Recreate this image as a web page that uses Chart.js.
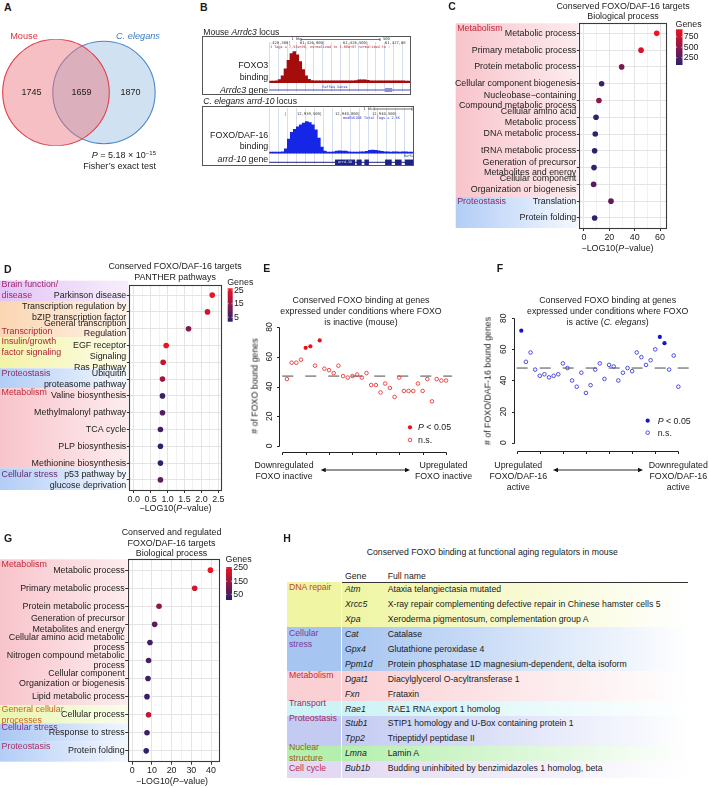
<!DOCTYPE html>
<html>
<head>
<meta charset="utf-8">
<title>Conserved FOXO/DAF-16 targets</title>
<script src="https://cdn.jsdelivr.net/npm/chart.js@4.4.1/dist/chart.umd.min.js"></script>
<style>
  html, body { margin: 0; padding: 0; background: #fff; }
  #page { position: relative; width: 709px; height: 788px; overflow: hidden;
          font-family: "Liberation Sans", Arial, sans-serif; color: #1a1a1a; }
  #page canvas { position: absolute; }
  .t { position: absolute; white-space: nowrap; line-height: 1; }
  .cell { position: absolute; }
</style>
</head>
<body>
<div id="page"></div>
<script>
// ---- A: Venn counts (mouse only, shared, C. elegans only)
const vennLabels = ['Mouse', 'C. elegans'];
const vennCounts = [1745, 1659, 1870];

// ---- B: binned ChIP coverage, % of peak height
const foxo3Coverage = [5, 5, 6, 10, 22, 45, 72, 94, 100, 90, 68, 42, 22, 11, 7, 6, 6, 6, 6, 6, 6, 6, 6, 6,
  6, 6, 6, 6, 6, 7, 9, 9, 9, 8, 6, 6, 6, 6, 6, 6, 6, 6, 6, 6, 6, 6, 5, 5];
const daf16Coverage = [4, 4, 4, 4, 5, 14, 45, 66, 76, 84, 90, 96, 100, 97, 90, 74, 48, 20, 7, 4, 4, 5, 7, 8,
  7, 7, 5, 4, 4, 4, 5, 5, 6, 9, 10, 9, 8, 6, 5, 5, 4, 5, 5, 4, 5, 5, 4, 4];
const arrdc3Exons = [[39.3, 41.7]];
const arrd10Exons = [[21.9, 28.6], [29.1, 30.8], [31.7, 33.2], [38.6, 40.8], [41.9, 44.1], [45.2, 47.9]];

// ---- C: biological process
const bpTerms = ['Metabolic process', 'Primary metabolic process', 'Protein metabolic process',
  'Cellular component biogenesis', ['Nucleobase\u2212containing', 'Compound metabolic process'],
  ['Cellular amino acid', 'Metabolic process'], 'DNA metabolic process', 'tRNA metabolic process',
  ['Generation of precursor', 'Metabolites and energy'], ['Cellular component', 'Organization or biogenesis'],
  'Translation', 'Protein folding'];
const bpLogP = [57.4, 45, 29.7, 13.9, 11.8, 9.5, 8.9, 8.4, 7.9, 7.6, 21.3, 8.4];
const bpGenes = [925, 810, 430, 150, 470, 110, 120, 100, 110, 260, 290, 95];

// ---- D: PANTHER pathways
const pantherTerms = ['Parkinson disease', ['Transcription regulation by', 'bZIP transcription factor'],
  ['General transcription', 'Regulation'], 'EGF receptor', ['Signaling', 'Ras Pathway'],
  ['Ubiquitin', 'proteasome pathway'], 'Valine biosynthesis', 'Methylmalonyl pathway', 'TCA cycle',
  'PLP biosynthesis', 'Methionine biosynthesis', ['p53 pathway by', 'glucose deprivation']];
const pantherLogP = [2.32, 2.18, 1.62, 0.96, 0.87, 0.85, 0.85, 0.85, 0.79, 0.79, 0.79, 0.79];
const pantherGenes = [26, 22, 13, 25, 21, 17, 5, 7, 5, 3, 3, 9];

// ---- E / F: FOXO-bound genes per expression bin
const mouseBound = [45, 56, 56, 58, 66, 67, 54, 71, 52, 51, 49, 54, 47, 46, 47, 48, 46, 49, 41, 41,
  36, 42, 39, 33, 46, 37, 37, 37, 42, 37, 45, 30, 45, 44, 44];
const mouseSig = [0, 0, 0, 0, 1, 1, 0, 1, 0, 0, 0, 0, 0, 0, 0, 0, 0, 0, 0, 0,
  0, 0, 0, 0, 0, 0, 0, 0, 0, 0, 0, 0, 0, 0, 0];
const mouseExpected = 47;
const wormBound = [72, 52, 58, 47, 43, 44, 42, 43, 44, 51, 48, 40, 36, 45, 32, 37, 47, 51, 41, 50,
  49, 40, 45, 48, 46, 58, 55, 50, 53, 60, 68, 64, 47, 56, 36];
const wormSig = [1, 0, 0, 0, 0, 0, 0, 0, 0, 0, 0, 0, 0, 0, 0, 0, 0, 0, 0, 0,
  0, 0, 0, 0, 0, 0, 0, 0, 0, 0, 1, 1, 0, 0, 0];
const wormExpected = 48;
const binTicks = [0, 5, 10, 15, 20, 25, 30, 35];
const countTicks = [0, 20, 40, 60, 80];

// ---- G: conserved and regulated targets
const regTerms = ['Metabolic process', 'Primary metabolic process', 'Protein metabolic process',
  ['Generation of precursor', 'Metabolites and energy'], ['Cellular amino acid metabolic', 'process'],
  ['Nitrogen compound metabolic', 'process'], ['Cellular component', 'Organization or biogenesis'],
  'Lipid metabolic process', 'Cellular process', 'Response to stress', 'Protein folding'];
const regLogP = [39.7, 31.7, 13.6, 11.4, 9, 8.3, 8, 7.5, 8.3, 7.5, 7.1];
const regGenes = [258, 225, 125, 65, 40, 45, 40, 25, 200, 30, 20];

// ---- H: aging regulators
const agingGroups = ['DNA repair', ['Cellular', 'stress'], 'Metabolism', 'Transport', 'Proteostasis',
  ['Nuclear', 'structure'], 'Cell cycle'];
const agingGroupSize = [3, 3, 2, 1, 2, 1, 1];
const agingGenes = ['Atm', 'Xrcc5', 'Xpa', 'Cat', 'Gpx4', 'Ppm1d', 'Dgat1', 'Fxn', 'Rae1', 'Stub1', 'Tpp2', 'Lmna', 'Bub1b'];
const agingNames = ['Ataxia telangiectasia mutated',
  'X-ray repair complementing defective repair in Chinese hamster cells 5',
  'Xeroderma pigmentosum, complementation group A', 'Catalase', 'Glutathione peroxidase 4',
  'Protein phosphatase 1D magnesium-dependent, delta isoform', 'Diacylglycerol O-acyltransferase 1',
  'Frataxin', 'RAE1 RNA export 1 homolog', 'STIP1 homology and U-Box containing protein 1',
  'Tripeptidyl peptidase II', 'Lamin A', 'Budding uninhibited by benzimidazoles 1 homolog, beta'];

// ---------------------------------------------------------------
const FONT = '"Liberation Sans", Arial, sans-serif';
const GENE_LOW = [42, 32, 112];
const GENE_HIGH = [242, 18, 32];
const page = document.getElementById('page');
Chart.defaults.font.family = FONT;

function makeCanvas(x, y, w, h) {
  const c = document.createElement('canvas');
  c.width = w; c.height = h;
  c.style.left = x + 'px'; c.style.top = y + 'px';
  c.style.width = w + 'px'; c.style.height = h + 'px';
  page.appendChild(c);
  return c;
}

function txt(x, y, html, o = {}) {
  const d = document.createElement('div');
  d.className = 't';
  d.innerHTML = html;
  d.style.left = x + 'px';
  d.style.top = y + 'px';
  d.style.fontSize = (o.size || 9) + 'px';
  if (o.color) d.style.color = o.color;
  if (o.bold) d.style.fontWeight = 'bold';
  const ax = o.align === 'l' ? '0' : o.align === 'r' ? '-100%' : '-50%';
  d.style.transform = `translate(${ax}, -50%)` + (o.rot ? ` rotate(${o.rot}deg)` : '');
  page.appendChild(d);
  return d;
}

function geneColor(g, range) {
  const t = Math.max(0, Math.min(1, (g - range[0]) / (range[1] - range[0])));
  const c = GENE_LOW.map((v, k) => Math.round(v + (GENE_HIGH[k] - v) * t));
  return `rgb(${c[0]},${c[1]},${c[2]})`;
}

const quiet = { legend: { display: false }, tooltip: { enabled: false } };

// ---------------- A: Venn ----------------
const vennCenters = [0, 0.9];
const vennRadius = [1, 0.96];
const vennCountX = [-0.46, 0.48, 1.40];
new Chart(makeCanvas(0, 30, 200, 130), {
  type: 'scatter',
  data: {
    datasets: [0, 1].map(k => ({
      label: vennLabels[k],
      data: [{ x: vennCenters[k], y: 0 }],
      pointRadius: c => c.chart.scales.x.getPixelForValue(vennRadius[k]) - c.chart.scales.x.getPixelForValue(0),
      pointBackgroundColor: k === 0 ? 'rgba(236,112,122,0.45)' : 'rgba(150,190,226,0.45)',
      pointBorderColor: k === 0 ? '#e0404a' : '#4c88c8',
      pointBorderWidth: 1.1
    }))
  },
  options: {
    responsive: false, animation: false, devicePixelRatio: 1, events: [],
    layout: { padding: { left: 0, right: 37.4, top: 9.2, bottom: 14.2 } },
    plugins: quiet,
    scales: { x: { display: false, min: -1.05, max: 2.0 }, y: { display: false, min: -1, max: 1 } }
  },
  plugins: [{
    id: 'vennCounts',
    afterDatasetsDraw(chart) {
      const ctx = chart.ctx;
      ctx.save();
      ctx.fillStyle = '#222'; ctx.font = `9px ${FONT}`;
      ctx.textAlign = 'center'; ctx.textBaseline = 'middle';
      vennCounts.forEach((n, i) => ctx.fillText(String(n),
        chart.scales.x.getPixelForValue(vennCountX[i]), chart.scales.y.getPixelForValue(0)));
      ctx.restore();
    }
  }]
});

// ---------------- B: genome tracks ----------------
function track(o) {
  const [bx, by, bw, bh] = o.box;
  const [al, ar, at, ab] = o.area;
  new Chart(makeCanvas(bx, by, bw, bh), {
    type: 'bar',
    data: {
      labels: o.values.map((_, i) => i),
      datasets: [{ data: o.values, backgroundColor: o.color, borderWidth: 0,
        categoryPercentage: 1, barPercentage: 1 }]
    },
    options: {
      responsive: false, animation: false, devicePixelRatio: 1, events: [],
      layout: { padding: { left: al - bx, right: bx + bw - ar, top: at - by, bottom: by + bh - ab } },
      plugins: quiet,
      scales: { x: { display: false }, y: { display: false, min: o.yMin, max: o.yMax } }
    },
    plugins: [{
      id: 'trackDecor',
      beforeDatasetsDraw(chart) {
        const ctx = chart.ctx, x = chart.scales.x, a = chart.chartArea;
        ctx.save();
        ctx.strokeStyle = '#d6ddef'; ctx.lineWidth = 1;
        for (let i = 0; i <= o.values.length; i += 3) {
          const px = Math.round(x.getPixelForValue(i - 0.5)) + 0.5;
          ctx.beginPath(); ctx.moveTo(px, a.top - 4); ctx.lineTo(px, a.bottom); ctx.stroke();
        }
        ctx.restore();
      },
      afterDraw(chart) {
        const ctx = chart.ctx, x = chart.scales.x;
        ctx.save();
        // gene model
        const gy = o.geneY - by;
        ctx.strokeStyle = o.geneColor; ctx.lineWidth = 1;
        ctx.beginPath(); ctx.moveTo(x.getPixelForValue(-0.5), gy); ctx.lineTo(x.getPixelForValue(o.values.length - 0.5), gy); ctx.stroke();
        ctx.fillStyle = o.exonColor;
        o.exons.forEach(([s, e]) => {
          const x0 = x.getPixelForValue(s - 0.5), x1 = x.getPixelForValue(e - 0.5);
          ctx.fillRect(x0, gy - o.exonH / 2, x1 - x0, o.exonH);
        });
        // header text
        o.header.forEach(h => {
          ctx.fillStyle = h.color; ctx.font = `${h.size || 3.8}px "DejaVu Sans Mono", monospace`;
          ctx.textAlign = h.align || 'left'; ctx.textBaseline = 'middle';
          ctx.fillText(h.text, h.x - bx, h.y - by);
        });
        // ruler
        ctx.strokeStyle = '#333'; ctx.lineWidth = 0.7;
        const [r0, r1, ry] = o.ruler;
        ctx.beginPath();
        ctx.moveTo(r0 - bx, ry - by); ctx.lineTo(r1 - bx, ry - by);
        ctx.moveTo(r0 - bx, ry - by - 1.5); ctx.lineTo(r0 - bx, ry - by + 1.5);
        ctx.moveTo(r1 - bx, ry - by - 1.5); ctx.lineTo(r1 - bx, ry - by + 1.5);
        ctx.stroke();
        // frame
        ctx.strokeStyle = '#555'; ctx.lineWidth = 1;
        ctx.strokeRect(0.5, 0.5, bw - 1, bh - 1);
        ctx.restore();
      }
    }]
  });
}

track({
  box: [202, 36, 209, 59], area: [269.3, 410.7, 46, 92], yMin: -30, yMax: 118.4,
  values: foxo3Coverage, color: '#a50d0d',
  geneY: 90, geneColor: '#4a4fb0', exonColor: '#8c8fd6', exons: arrdc3Exons, exonH: 4,
  ruler: [301, 380, 39.5],
  header: [
    { x: 296, y: 39.5, text: '1 kb', color: '#333', align: 'center' },
    { x: 383, y: 39.5, text: '500', color: '#333' },
    { x: 270, y: 43.3, text: '.428,500|', color: '#333' },
    { x: 300, y: 43.3, text: '61,426,000|', color: '#333' },
    { x: 343, y: 43.3, text: '61,426,500|', color: '#333' },
    { x: 385, y: 43.3, text: '61,427,00', color: '#333' },
    { x: 270, y: 47.5, text: '1 Tags = 7.53e+06, normalized to 1.00e+07 normalized to :', color: '#c0282c', size: 3.5 },
    { x: 335, y: 87.3, text: 'RefSeq Genes', color: '#3a44a8', align: 'center', size: 3.5 }
  ]
});
track({
  box: [202, 106, 212, 60], area: [269.3, 413.3, 112, 164], yMin: -33.9, yMax: 130.7,
  values: daf16Coverage, color: '#1526e6',
  geneY: 162.3, geneColor: '#1c2380', exonColor: '#1c2380', exons: arrd10Exons, exonH: 5.5,
  ruler: [374, 412, 109],
  header: [
    { x: 368, y: 109, text: '1 kb', color: '#333', align: 'center' },
    { x: 284, y: 114, text: '|', color: '#333' },
    { x: 297, y: 114, text: '12,939,500|', color: '#333' },
    { x: 335, y: 114, text: '12,940,000|', color: '#333' },
    { x: 372, y: 114, text: '12,940,500|', color: '#333' },
    { x: 343, y: 118.3, text: 'modENCODE Total Tags = 2.65', color: '#2a3ad0', size: 3.5 },
    { x: 404, y: 156.5, text: 'RefSeq', color: '#1c2380', size: 3.3 },
    { x: 345, y: 162.3, text: 'arrd-10', color: '#ffffff', align: 'center', size: 3.3 }
  ]
});

// ---------------- C / D / G: dot plots ----------------
function dotPlot(o) {
  const [bx, by, bw, bh] = o.box;
  const [pl, pt, pr, pb] = o.panel;
  const n = o.terms.length;
  const isMajor = v => Math.abs(v / o.major - Math.round(v / o.major)) < 1e-6;
  new Chart(makeCanvas(bx, by, bw, bh), {
    type: 'scatter',
    data: {
      datasets: [{
        data: o.values.map((v, i) => ({ x: v, y: i })),
        pointRadius: 2.8, pointBorderWidth: 0,
        pointBackgroundColor: o.genes.map(g => geneColor(g, o.range))
      }]
    },
    options: {
      responsive: false, animation: false, devicePixelRatio: 1, events: [],
      layout: { padding: { left: 0, top: pt - by, right: bx + bw - pr, bottom: 0 } },
      plugins: quiet,
      scales: {
        x: {
          type: 'linear', min: o.xMin, max: o.xMax,
          afterBuildTicks: s => { s.ticks = o.xTicks.map(v => ({ value: v })); },
          afterFit: s => { s.height = by + bh - pb; },
          border: { display: false },
          grid: {
            color: c => (c.tick && isMajor(c.tick.value)) ? '#e4e4e4' : '#f2f2f2',
            tickColor: c => (c.tick && isMajor(c.tick.value)) ? '#333' : 'rgba(0,0,0,0)',
            tickLength: 3
          },
          ticks: { autoSkip: false, maxRotation: 0, padding: 1, color: '#222',
            font: { family: FONT, size: 8.9 }, callback: v => isMajor(v) ? o.fmt(v) : '' }
        },
        y: {
          type: 'linear', reverse: true, min: -0.6, max: n - 0.4,
          afterBuildTicks: s => { s.ticks = o.terms.map((_, i) => ({ value: i })); },
          afterFit: s => { s.width = pl - bx; },
          border: { display: false },
          grid: { color: '#e4e4e4', tickColor: '#333', tickLength: 2.5 },
          ticks: { autoSkip: false, padding: 0.5, color: '#222',
            font: { family: FONT, size: 8.9, lineHeight: 1.2 }, callback: v => o.terms[v] }
        }
      }
    },
    plugins: [{
      id: 'dotDecor',
      beforeDraw(chart) {
        const ctx = chart.ctx, y = chart.scales.y;
        ctx.save();
        o.bands.forEach(b => {
          const y0 = y.getPixelForValue(b.from), y1 = y.getPixelForValue(b.to);
          const x0 = o.bandX[0] - bx, x1 = o.bandX[1] - bx;
          const g = ctx.createLinearGradient(x0, 0, x1, 0);
          g.addColorStop(0, b.fill); g.addColorStop(1, b.fade);
          ctx.fillStyle = g;
          ctx.fillRect(x0, y0, x1 - x0, y1 - y0);
        });
        o.bands.forEach(b => {
          ctx.fillStyle = b.ink; ctx.font = `8.9px ${FONT}`;
          ctx.textAlign = 'left'; ctx.textBaseline = 'middle';
          b.label.forEach((line, k) => ctx.fillText(line, o.bandX[0] - bx + 1.5, y.getPixelForValue(b.at) + k * 10.5));
        });
        ctx.restore();
      },
      afterDraw(chart) {
        const ctx = chart.ctx, a = chart.chartArea;
        ctx.save();
        ctx.strokeStyle = '#3a3a3a'; ctx.lineWidth = 1.1;
        ctx.strokeRect(Math.round(a.left) + 0.5, Math.round(a.top) + 0.5,
          Math.round(a.right - a.left), Math.round(a.bottom - a.top));
        // colour bar legend
        const L = o.legend;
        ctx.fillStyle = '#222'; ctx.font = `8.9px ${FONT}`;
        ctx.textAlign = 'left'; ctx.textBaseline = 'middle';
        ctx.fillText('Genes', L.x - bx - 0.5, L.titleY - by);
        const g = ctx.createLinearGradient(0, L.y1 - by, 0, L.y0 - by);
        for (let k = 0; k <= 10; k++) {
          g.addColorStop(k / 10, geneColor(o.range[0] + (o.range[1] - o.range[0]) * k / 10, o.range));
        }
        ctx.fillStyle = g;
        ctx.fillRect(L.x - bx, L.y0 - by, L.w, L.y1 - L.y0);
        L.labels.forEach(v => {
          const yy = L.y1 - (v - o.range[0]) / (o.range[1] - o.range[0]) * (L.y1 - L.y0) - by;
          ctx.strokeStyle = '#fff'; ctx.lineWidth = 0.6;
          ctx.beginPath();
          ctx.moveTo(L.x - bx, yy); ctx.lineTo(L.x - bx + 1.2, yy);
          ctx.moveTo(L.x - bx + L.w - 1.2, yy); ctx.lineTo(L.x - bx + L.w, yy);
          ctx.stroke();
          ctx.fillStyle = '#222';
          ctx.fillText(String(v), L.x - bx + L.w + 1.2, yy);
        });
        ctx.restore();
      }
    }]
  });
}

const PINK = ['rgb(248,196,203)', 'rgb(253,236,238)'];
const BLUE = ['rgb(178,205,246)', 'rgb(244,248,255)'];

dotPlot({
  box: [440, 0, 269, 258], panel: [579.3, 23.3, 666, 228],
  terms: bpTerms, values: bpLogP, genes: bpGenes, range: [76, 926],
  xMin: -3.7, xMax: 64.7, xTicks: [0, 10, 20, 30, 40, 50, 60], major: 20, fmt: v => String(v),
  bandX: [455.7, 578],
  bands: [
    { from: -0.6, to: 9.75, fill: PINK[0], fade: PINK[1], ink: '#c42a3c', label: ['Metabolism'], at: -0.3 },
    { from: 9.75, to: 11.6, fill: BLUE[0], fade: BLUE[1], ink: '#8a2c6c', label: ['Proteostasis'], at: 10.05 }
  ],
  legend: { x: 676, w: 6.5, y0: 29.3, y1: 65, titleY: 25, labels: [750, 500, 250] }
});

dotPlot({
  box: [0, 258, 262, 257], panel: [129.3, 285, 221.7, 490],
  terms: pantherTerms, values: pantherLogP, genes: pantherGenes, range: [1.8, 26.3],
  xMin: -0.13, xMax: 2.6, xTicks: [0, 0.25, 0.5, 0.75, 1, 1.25, 1.5, 1.75, 2, 2.25, 2.5], major: 0.5,
  fmt: v => v.toFixed(1),
  bandX: [0, 128.3],
  bands: [
    { from: -0.86, to: 0.4, fill: 'rgb(226,196,246)', fade: 'rgb(247,238,252)', ink: '#9e2a70', label: ['Brain function/', 'disease'], at: -0.6 },
    { from: 0.4, to: 2.5, fill: 'rgb(251,214,178)', fade: 'rgb(254,243,232)', ink: '#b0283e', label: ['Transcription'], at: 2.18 },
    { from: 2.5, to: 4.36, fill: 'rgb(243,244,168)', fade: 'rgb(252,252,232)', ink: '#b0283e', label: ['Insulin/growth', 'factor signaling'], at: 2.77 },
    { from: 4.36, to: 5.55, fill: BLUE[0], fade: BLUE[1], ink: '#8a2c6c', label: ['Proteostasis'], at: 4.65 },
    { from: 5.55, to: 10.31, fill: PINK[0], fade: PINK[1], ink: '#c42a3c', label: ['Metabolism'], at: 5.8 },
    { from: 10.31, to: 11.6, fill: BLUE[0], fade: BLUE[1], ink: '#6a2a70', label: ['Cellular stress'], at: 10.67 }
  ],
  legend: { x: 227.7, w: 5, y0: 288.3, y1: 321.7, titleY: 282.7, labels: [25, 15, 5] }
});

dotPlot({
  box: [0, 515, 262, 273], panel: [127.7, 559.3, 218.3, 761.7],
  terms: regTerms, values: regLogP, genes: regGenes, range: [7, 258],
  xMin: -2.3, xMax: 43.7, xTicks: [0, 5, 10, 15, 20, 25, 30, 35, 40], major: 10, fmt: v => String(v),
  bandX: [0, 127],
  bands: [
    { from: -0.6, to: 7.48, fill: PINK[0], fade: PINK[1], ink: '#c42a3c', label: ['Metabolism'], at: -0.33 },
    { from: 7.48, to: 8.48, fill: 'rgb(232,246,176)', fade: 'rgb(249,252,236)', ink: '#c8641a', label: ['General cellular', 'processes'], at: 7.72 },
    { from: 8.48, to: 9.49, fill: 'rgb(170,198,242)', fade: 'rgb(240,246,255)', ink: '#7a3296', label: ['Cellular stress'], at: 8.72 },
    { from: 9.49, to: 10.6, fill: BLUE[0], fade: BLUE[1], ink: '#a8306a', label: ['Proteostasis'], at: 9.76 }
  ],
  legend: { x: 226, w: 6, y0: 567, y1: 600, titleY: 560, labels: [250, 150, 50] }
});

// ---------------- E / F: binding scatter ----------------
function bindingPlot(o) {
  const [bx, by, bw, bh] = o.box;
  const [al, ar, at, ab] = o.area;
  const pts = o.counts.map((v, i) => ({ x: i + 1, y: v }));
  new Chart(makeCanvas(bx, by, bw, bh), {
    type: 'scatter',
    data: {
      datasets: [
        { data: pts.filter((_, i) => o.sig[i]), pointRadius: 2.1, pointBorderWidth: 0,
          pointBackgroundColor: o.fill, order: 0 },
        { data: pts.filter((_, i) => !o.sig[i]), pointRadius: 1.8, pointBorderWidth: 0.9,
          pointBackgroundColor: 'rgba(255,255,255,0)', pointBorderColor: o.open, order: 1 },
        { type: 'line', data: [{ x: 0, y: o.expected }, { x: o.lineEnd, y: o.expected }],
          borderColor: '#4a4a4a', borderWidth: 1, borderDash: [11, 12], pointRadius: 0,
          clip: false, order: 2 }
      ]
    },
    options: {
      responsive: false, animation: false, devicePixelRatio: 1, events: [],
      layout: { padding: { left: al - bx, right: bx + bw - ar, top: at - by, bottom: by + bh - ab } },
      plugins: quiet,
      scales: { x: { display: false, min: o.xMin, max: o.xMax }, y: { display: false, min: o.yMin, max: o.yMax } }
    },
    plugins: [{
      id: 'baseAxes',
      afterDraw(chart) {
        const ctx = chart.ctx, x = chart.scales.x, y = chart.scales.y, a = chart.chartArea;
        ctx.save();
        ctx.strokeStyle = '#222'; ctx.fillStyle = '#222'; ctx.lineWidth = 1;
        const yl = Math.round(a.left) + 0.5;
        ctx.beginPath();
        ctx.moveTo(yl, Math.round(y.getPixelForValue(countTicks[0])) + 0.5);
        ctx.lineTo(yl, Math.round(y.getPixelForValue(countTicks[countTicks.length - 1])) + 0.5);
        countTicks.forEach(v => {
          const py = Math.round(y.getPixelForValue(v)) + 0.5;
          ctx.moveTo(yl - 2.5, py); ctx.lineTo(yl, py);
        });
        const xb = Math.round(a.bottom) + 0.5;
        ctx.moveTo(Math.round(x.getPixelForValue(binTicks[0])) + 0.5, xb);
        ctx.lineTo(Math.round(x.getPixelForValue(binTicks[binTicks.length - 1])) + 0.5, xb);
        binTicks.forEach(v => {
          const px = Math.round(x.getPixelForValue(v)) + 0.5;
          ctx.moveTo(px, xb); ctx.lineTo(px, xb + 2.5);
        });
        ctx.stroke();
        ctx.font = `8.5px ${FONT}`; ctx.textAlign = 'center'; ctx.textBaseline = 'middle';
        countTicks.forEach(v => {
          ctx.save();
          ctx.translate(yl - o.labelGap, y.getPixelForValue(v));
          ctx.rotate(-Math.PI / 2);
          ctx.fillText(String(v), 0, 0);
          ctx.restore();
        });
        // legend symbols
        const lx = o.legend.x - bx;
        ctx.fillStyle = o.fill;
        ctx.beginPath(); ctx.arc(lx, o.legend.sigY - by, 2.1, 0, Math.PI * 2); ctx.fill();
        ctx.strokeStyle = o.open; ctx.lineWidth = 0.9;
        ctx.beginPath(); ctx.arc(lx, o.legend.nsY - by, 1.8, 0, Math.PI * 2); ctx.stroke();
        // double-headed arrow
        const [x0, x1, ay] = o.arrow.map((v, k) => v - (k < 2 ? bx : by));
        ctx.strokeStyle = '#111'; ctx.fillStyle = '#111'; ctx.lineWidth = 0.9;
        ctx.beginPath(); ctx.moveTo(x0 + 3, ay); ctx.lineTo(x1 - 3, ay); ctx.stroke();
        ctx.beginPath();
        ctx.moveTo(x0, ay); ctx.lineTo(x0 + 5, ay - 2.2); ctx.lineTo(x0 + 5, ay + 2.2); ctx.closePath();
        ctx.moveTo(x1, ay); ctx.lineTo(x1 - 5, ay - 2.2); ctx.lineTo(x1 - 5, ay + 2.2); ctx.closePath();
        ctx.fill();
        ctx.restore();
      }
    }]
  });
}

bindingPlot({
  box: [240, 290, 230, 210], area: [279.0, 449.3, 321.35, 451.65],
  xMin: -0.7, xMax: 35.7, yMin: -3.8, yMax: 83.8,
  counts: mouseBound, sig: mouseSig, expected: mouseExpected, lineEnd: 36.3,
  fill: '#e5121c', open: '#e83a3a', labelGap: 9.7,
  legend: { x: 410, sigY: 427.3, nsY: 440 }, arrow: [320.7, 410, 470]
});
bindingPlot({
  box: [470, 290, 239, 210], area: [514, 681.1, 312.0, 450.7],
  xMin: -0.58, xMax: 35.6, yMin: -5.1, yMax: 84,
  counts: wormBound, sig: wormSig, expected: wormExpected, lineEnd: 37.5,
  fill: '#1414c8', open: '#3a3ae0', labelGap: 10.7,
  legend: { x: 647.7, sigY: 420.7, nsY: 432.7 }, arrow: [553, 643, 470]
});

// ---------------- H: table ----------------
const groupFill = ['#eff5a2', '#a6c5f1', '#fad0d4', '#cdf3f6', '#c3cbf2', '#b5efad', '#e2daf4'];
const groupInk = ['#c0482a', '#7a3a9a', '#c8283c', '#a02a5a', '#a02a6a', '#9a5a1a', '#c02850'];
const groupLabelDy = [5.4, 6.8, 3.5, 2.3, 2.3, 1.3, 7.3];
const rowY0 = 589.3, rowH = 14.9;
let row = 0;
agingGroups.forEach((grp, gi) => {
  const top = rowY0 - rowH / 2 + row * rowH;
  const h = agingGroupSize[gi] * rowH + (gi === agingGroups.length - 1 ? 2 : 0);
  const cat = document.createElement('div');
  cat.className = 'cell';
  Object.assign(cat.style, { left: '287.3px', top: top + 'px', width: '53.7px', height: h + 'px', background: groupFill[gi] });
  page.appendChild(cat);
  const band = document.createElement('div');
  band.className = 'cell';
  Object.assign(band.style, { left: '342.3px', top: top + 'px', width: '348px', height: h + 'px',
    background: `linear-gradient(to right, ${groupFill[gi]}, #ffffff)` });
  page.appendChild(band);
  const lines = Array.isArray(grp) ? grp : [grp];
  lines.forEach((s, k) => txt(289, top + groupLabelDy[gi] + k * 10.5, s, { align: 'l', size: 8.7, color: groupInk[gi] }));
  row += agingGroupSize[gi];
});
agingGenes.forEach((g, i) => {
  const y = rowY0 + i * rowH;
  txt(345, y, `<i>${g}</i>`, { align: 'l', size: 8.7 });
  txt(387.7, y, agingNames[i], { align: 'l', size: 8.7 });
});
txt(345, 575.7, 'Gene', { align: 'l', size: 8.7 });
txt(387.7, 575.7, 'Full name', { align: 'l', size: 8.7 });
const rule = document.createElement('div');
rule.className = 'cell';
Object.assign(rule.style, { left: '342.3px', top: '582px', width: '346px', height: '1px', background: '#333' });
page.appendChild(rule);
txt(492.3, 552.3, 'Conserved FOXO binding at functional aging regulators in mouse', { size: 8.7 });

// ---------------- text: letters, titles, axis names ----------------
[['A', 4, 6.7], ['B', 200, 6.7], ['C', 448.3, 6], ['D', 4, 269.3], ['E', 263.3, 268.3],
 ['F', 496.7, 268.3], ['G', 4, 538.3], ['H', 283.3, 538.3]].forEach(([s, x, y]) =>
  txt(x, y, s, { align: 'l', size: 10.5, bold: true }));

// A
txt(24, 36.7, vennLabels[0], { size: 9.2, color: '#e0323c' });
txt(138, 36.7, `<i>${vennLabels[1]}</i>`, { size: 9.2, color: '#3a7cc4' });
txt(156, 155, '<i>P</i> = 5.18 × 10<sup style="font-size:6px;vertical-align:3px">\u221215</sup>', { align: 'r', size: 9 });
txt(156, 165.7, 'Fisher\u2019s exact test', { align: 'r', size: 9 });

// B
txt(203.3, 31.7, 'Mouse <i>Arrdc3</i> locus', { align: 'l', size: 8.6 });
txt(268.3, 65, 'FOXO3', { align: 'r', size: 8.9 });
txt(268.3, 76.7, 'binding', { align: 'r', size: 8.9 });
txt(268.3, 90, '<i>Arrdc3</i> gene', { align: 'r', size: 8.9 });
txt(203.3, 100.7, '<i>C. elegans arrd-10</i> locus', { align: 'l', size: 8.6 });
txt(268.3, 135, 'FOXO/DAF-16', { align: 'r', size: 8.9 });
txt(268.3, 145.7, 'binding', { align: 'r', size: 8.9 });
txt(268.3, 159, '<i>arrd-10</i> gene', { align: 'r', size: 8.9 });

// C, D, G titles and axis names
const logLabel = '\u2212LOG10(<i>P</i>\u2212value)';
txt(623, 6, 'Conserved FOXO/DAF-16 targets', { size: 8.9 });
txt(623, 15.7, 'Biological process', { size: 8.9 });
txt(617.5, 248, logLabel, { size: 8.9 });
txt(175, 266, 'Conserved FOXO/DAF-16 targets', { size: 8.9 });
txt(175, 276.7, 'PANTHER pathways', { size: 8.9 });
txt(175.5, 508.3, logLabel, { size: 8.9 });
txt(171.5, 532, 'Conserved and regulated', { size: 8.9 });
txt(171.5, 542.7, 'FOXO/DAF-16 targets', { size: 8.9 });
txt(171.5, 552.7, 'Biological process', { size: 8.9 });
txt(172, 780.7, logLabel, { size: 8.9 });

// E
txt(361, 300, 'Conserved FOXO binding at genes', { size: 8.8 });
txt(361, 310.7, 'expressed under conditions where FOXO', { size: 8.8 });
txt(361, 321.7, 'is inactive (mouse)', { size: 8.8 });
txt(255, 385.8, '# of FOXO bound genes', { size: 8.8, rot: -90 });
txt(418, 427.3, '<i>P</i> &lt; 0.05', { align: 'l', size: 8.8 });
txt(418, 440, 'n.s.', { align: 'l', size: 8.8 });
txt(284, 465, 'Downregulated', { size: 8.8 });
txt(284, 476, 'FOXO inactive', { size: 8.8 });
txt(443.5, 465, 'Upregulated', { size: 8.8 });
txt(443.5, 476, 'FOXO inactive', { size: 8.8 });

// F
txt(607.7, 300, 'Conserved FOXO binding at genes', { size: 8.8 });
txt(607.7, 310.7, 'expressed under conditions where FOXO', { size: 8.8 });
txt(607.7, 322, 'is active (<i>C. elegans</i>)', { size: 8.8 });
txt(487.7, 381, '# of FOXO/DAF-16 bound genes', { size: 8.8, rot: -90 });
txt(657.7, 420.7, '<i>P</i> &lt; 0.05', { align: 'l', size: 8.8 });
txt(657.7, 432.7, 'n.s.', { align: 'l', size: 8.8 });
txt(518.3, 464.7, 'Upregulated', { size: 8.8 });
txt(518.3, 475.7, 'FOXO/DAF-16', { size: 8.8 });
txt(518.3, 487, 'active', { size: 8.8 });
txt(678.3, 464.7, 'Downregulated', { size: 8.8 });
txt(678.3, 475.7, 'FOXO/DAF-16', { size: 8.8 });
txt(678.3, 487, 'active', { size: 8.8 });
</script>
</body>
</html>
